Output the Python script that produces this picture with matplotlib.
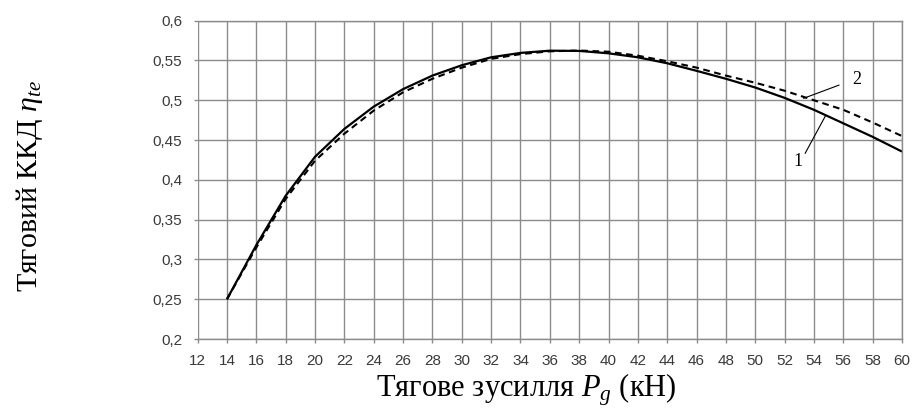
import matplotlib.pyplot as plt
import numpy as np

# --- Dados ---
pg = [14, 16, 18, 20, 22, 24, 26, 28, 30, 32, 34, 36, 38, 40, 42, 44,
      46, 48, 50, 52, 54, 56, 58, 60]
eta_1 = [0.250, 0.318, 0.380, 0.429, 0.464, 0.492, 0.514, 0.531, 0.544,
         0.554, 0.5595, 0.5623, 0.562, 0.559, 0.554, 0.5465, 0.537, 0.527,
         0.516, 0.503, 0.488, 0.471, 0.454, 0.4355]
eta_2 = [0.250, 0.315, 0.376, 0.424, 0.458, 0.487, 0.510, 0.527, 0.541,
         0.552, 0.558, 0.5615, 0.5625, 0.561, 0.556, 0.549, 0.541, 0.531,
         0.522, 0.512, 0.500, 0.488, 0.472, 0.455]
x_ticks = list(range(12, 61, 2))
y_ticks = [0.2, 0.25, 0.3, 0.35, 0.4, 0.45, 0.5, 0.55, 0.6]
y_tick_labels = ['0,2', '0,25', '0,3', '0,35', '0,4', '0,45', '0,5', '0,55', '0,6']

plt.rcParams['mathtext.fontset'] = 'custom'
plt.rcParams['mathtext.rm'] = 'Liberation Serif'
plt.rcParams['mathtext.it'] = 'Liberation Serif:italic'

grid_c = '#8c8c8c'
tick_c = '#3a3a3a'

fig = plt.figure(figsize=(9.14, 4.08), dpi=100)
ax = fig.add_axes([0.2162, 0.1691, 0.9869 - 0.2162, 0.9493 - 0.1691])

ax.plot(pg, eta_1, color='black', lw=1.6, solid_capstyle='butt')
ax.plot(pg, eta_2, color='black', lw=1.5, linestyle=(0, (3.2, 2.2)))

ax.set_xlim(12, 60)
ax.set_ylim(0.2, 0.6)
ax.set_xticks(x_ticks)
ax.set_yticks(y_ticks)
ax.set_yticklabels(y_tick_labels)
ax.grid(True, color=grid_c, lw=1.0)
ax.set_axisbelow(True)

for side in ['top', 'right', 'bottom']:
    ax.spines[side].set_color(grid_c)
    ax.spines[side].set_linewidth(1.0)
ax.spines['left'].set_visible(False)

ax.tick_params(axis='both', colors=grid_c, length=3, width=1.0,
               labelcolor=tick_c, labelsize=11, pad=8)
for lbl in ax.get_xticklabels() + ax.get_yticklabels():
    lbl.set_family('Liberation Sans')

# Rótulos das curvas
ax.plot([55.7, 53.3], [0.519, 0.5025], color='black', lw=0.8)
ax.text(56.6, 0.5255, '2', family='Liberation Serif', fontsize=13,
        ha='left', va='center')
ax.plot([53.4, 54.8], [0.4334, 0.481], color='black', lw=0.8)
ax.text(52.9, 0.423, '1', family='Liberation Serif', fontsize=13,
        ha='center', va='center')

fig.text(0.576, 0.028, 'Тягове зусилля $P_g$ (кН)', family='Liberation Serif',
         fontsize=22, ha='center', va='baseline')
fig.text(0.032, 0.545, 'Тяговий ККД $\\eta_{te}$', family='Liberation Serif',
         fontsize=21.5, rotation=90, ha='center', va='center')

fig.savefig('out.png', dpi=100)
